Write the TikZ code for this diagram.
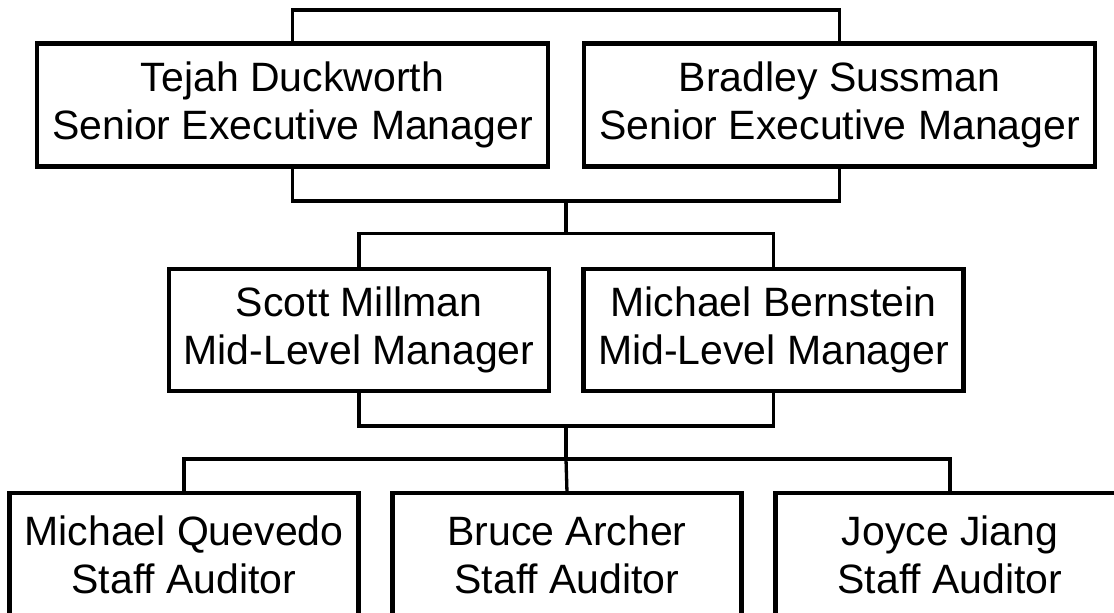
\documentclass[tikz,border=0pt]{standalone}
\usepackage{fontspec}
\setmainfont{Liberation Sans}
\begin{document}
\begin{tikzpicture}[x=1pt,y=-1pt,
  person/.style={draw=black, fill=white, line width=4.2pt, outer sep=0pt, inner sep=0pt,
    align=center, font=\fontsize{41}{47.5}\selectfont},
  toplevel/.style={person, minimum width=511pt, minimum height=123pt},
  midlevel/.style={person, minimum width=380pt, minimum height=122.6pt},
  lowlevel/.style={person, minimum width=349pt, minimum height=124pt},
  link/.style={draw=black, line width=3.3pt}]
\fill[white] (0,0) rectangle (1114,613);
\useasboundingbox (0,0) rectangle (1114,613);
\clip (0,0) rectangle (1114,613);

\node[toplevel] (tejah) at (292.5,105) {Tejah Duckworth\\Senior Executive Manager};
\node[toplevel] (bradley) at (839.5,105) {Bradley Sussman\\Senior Executive Manager};

\node[midlevel] (scott) at (359,330) {Scott Millman\\Mid-Level Manager};
\node[midlevel] (bernstein) at (773.5,330) {Michael Bernstein\\Mid-Level Manager};

\node[lowlevel] (quevedo) at (184,554.7) {Michael Quevedo\\Staff Auditor};
\node[lowlevel] (archer) at (567,554.7) {Bruce Archer\\Staff Auditor};
\node[lowlevel] (jiang) at (950,554.7) {Joyce Jiang\\Staff Auditor};

\coordinate (topbar) at (566,10);
\coordinate (c1) at (566,201);
\coordinate (c2) at (566,233.7);
\coordinate (c3) at (566,426);
\coordinate (c4) at (566,459);

\draw[link] (tejah.north) |- (topbar) -| (bradley.north);
\draw[link] (tejah.south) |- (c1) -| (bradley.south);
\draw[link] (c1) -- (c2);
\draw[link] (scott.north) |- (c2) -| (bernstein.north);
\draw[link] (scott.south) |- (c3) -| (bernstein.south);
\draw[link] (c3) -- (c4);
\draw[link] (quevedo.north) |- (c4) -| (jiang.north);
\draw[link] (c4) -- (archer.north);
\end{tikzpicture}
\end{document}
